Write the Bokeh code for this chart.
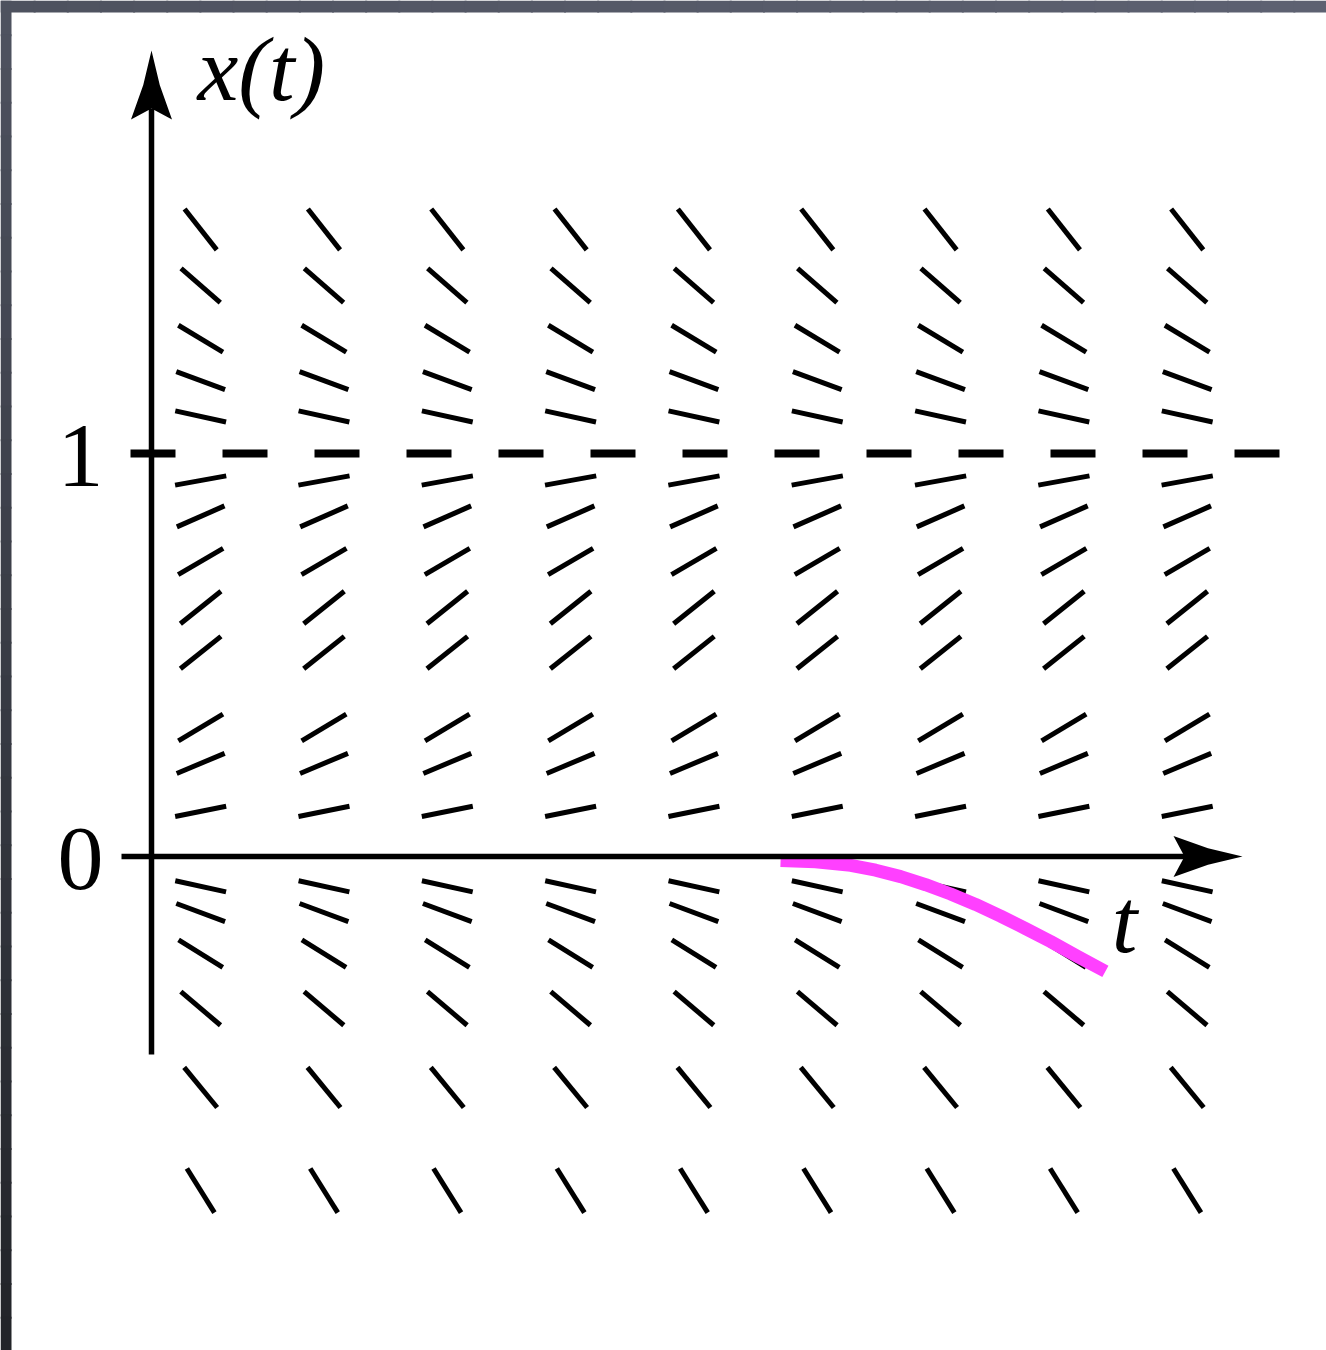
import numpy as np
from bokeh.plotting import figure
from bokeh.models import Range1d, Label
from bokeh.embed import file_html
from bokeh.resources import INLINE

# ---- data -------------------------------------------------------------
# times at which the slope field is sampled
t_cols = [0.122, 0.428, 0.734, 1.040, 1.346, 1.652, 1.958, 2.264, 2.570]

# x-levels of the slope rows and the slope dx/dt drawn at each level
x_rows = [1.556, 1.417, 1.285, 1.181, 1.092,
          0.933, 0.844, 0.732, 0.618, 0.506, 0.320, 0.231, 0.112,
          -0.074, -0.139, -0.241, -0.377, -0.573, -0.829]
slopes = [-1.27, -0.87, -0.60, -0.37, -0.22,
          0.18, 0.44, 0.58, 0.80, 0.80, 0.60, 0.42, 0.20,
          -0.22, -0.37, -0.62, -0.85, -1.22, -1.60]

# equilibrium drawn dashed
x_equilibrium = 1.0

# a solution curve starting just below x = 0
sol_t = [1.561, 1.648, 1.735, 1.797, 1.859, 1.921, 1.983,
         2.045, 2.107, 2.169, 2.231, 2.298, 2.367]
sol_x = [-0.010, -0.013, -0.022, -0.034, -0.050, -0.070, -0.093,
         -0.119, -0.148, -0.179, -0.211, -0.248, -0.285]

# tick labels on the x(t) axis
tick_values = [1, 0]
tick_labels = ["1", "0"]

# ---- layout -------------------------------------------------------------
W, H = 1326, 1350
UNIT = 403.0                # pixels per unit, same on both axes
ORIGIN = (151.0, 856.0)     # canvas position of (t=0, x=0)


def tx(px):
    return (np.asarray(px, dtype=float) - ORIGIN[0]) / UNIT


def xy(py):
    return (ORIGIN[1] - np.asarray(py, dtype=float)) / UNIT


p = figure(width=W, height=H,
           x_range=Range1d(float(tx(0)), float(tx(W))),
           y_range=Range1d(float(xy(H)), float(xy(0))),
           output_backend="svg", toolbar_location=None, min_border=0)
p.axis.visible = False
p.grid.visible = False
p.outline_line_color = None
p.background_fill_color = "white"
p.border_fill_color = "#3a3d48"


def mix(c1, c2, f):
    a = [int(c1[i:i + 2], 16) for i in (1, 3, 5)]
    b = [int(c2[i:i + 2], 16) for i in (1, 3, 5)]
    return "#%02x%02x%02x" % tuple(round(a[k] + (b[k] - a[k]) * f) for k in range(3))


# slate backdrop around the white sheet (bands overlap to hide seams)
n = 40
ys = np.linspace(0, H, n + 1)
p.quad(left=float(tx(0)), right=float(tx(11)), top=xy(ys[:-1]), bottom=xy(ys[1:] + 2),
       fill_color=[mix("#4e525f", "#222429", i / (n - 1)) for i in range(n)],
       line_color=None)
xs = np.linspace(0, W, n + 1)
p.quad(left=tx(xs[:-1]), right=tx(xs[1:] + 2), top=float(xy(0)), bottom=float(xy(12)),
       fill_color=[mix("#4e525f", "#5d6171", i / (n - 1)) for i in range(n)],
       line_color=None)

# ---- slope field ---------------------------------------------------------
half = 26.0 / UNIT
x0s, y0s, x1s, y1s = [], [], [], []
for xr, m in zip(x_rows, slopes):
    d = np.hypot(1.0, m)
    dt, dx = half / d, half * m / d
    for tc in t_cols:
        x0s.append(tc - dt)
        y0s.append(xr - dx)
        x1s.append(tc + dt)
        y1s.append(xr + dx)
p.segment(x0=x0s, y0=y0s, x1=x1s, y1=y1s, line_color="black",
          line_width=5, line_cap="butt")

# equilibrium line
p.line([float(tx(130)), float(tx(1290))], [x_equilibrium, x_equilibrium],
       line_color="black", line_width=8, line_dash="45 47", line_cap="butt")

# solution curve
p.line(sol_t, sol_x, line_color="#ff40ff", line_width=13, line_cap="butt",
       line_join="round")

# ---- axes with arrowheads -----------------------------------------------
p.line([0, 0], [float(xy(1054)), float(xy(108))], line_color="black", line_width=5.5)
p.line([float(tx(121)), float(tx(1185))], [0, 0], line_color="black", line_width=5.5)

L, HW, NOTCH, BOW = 69.0, 20.5, 11.0, 2.0
# vertical arrow, tip pointing up
tip_x, tip_y = 151.0, 50.0
vx = [tip_x, tip_x - HW / 2 + BOW, tip_x - HW, tip_x, tip_x + HW, tip_x + HW / 2 - BOW]
vy = [tip_y, tip_y + L / 2, tip_y + L, tip_y + L - NOTCH, tip_y + L, tip_y + L / 2]
p.patch(tx(vx), xy(vy), fill_color="black", line_color=None)
# horizontal arrow, tip pointing right
tip_x, tip_y = 1242.0, 856.0
hx = [tip_x, tip_x - L / 2, tip_x - L, tip_x - L + NOTCH, tip_x - L, tip_x - L / 2]
hy = [tip_y, tip_y - HW / 2 + BOW, tip_y - HW, tip_y, tip_y + HW, tip_y + HW / 2 - BOW]
p.patch(tx(hx), xy(hy), fill_color="black", line_color=None)

# ---- labels ----------------------------------------------------------------
font = "Liberation Serif"
p.add_layout(Label(x=float(tx(197)), y=float(xy(68)), text="x(t)", text_font=font,
                   text_font_style="italic", text_font_size="92px",
                   text_align="left", text_baseline="alphabetic",
                   text_color="black"))
p.add_layout(Label(x=float(tx(1124)), y=float(xy(920)), text="t", text_font=font,
                   text_font_style="italic", text_font_size="92px",
                   text_align="center", text_baseline="alphabetic",
                   text_color="black"))
for v, lab in zip(tick_values, tick_labels):
    p.add_layout(Label(x=float(tx(80)), y=v - 2.5 / UNIT, text=lab,
                       text_font=font, text_font_size="92px",
                       text_align="center", text_baseline="alphabetic",
                       text_color="black"))

open("out.html", "w").write(file_html(p, INLINE))
